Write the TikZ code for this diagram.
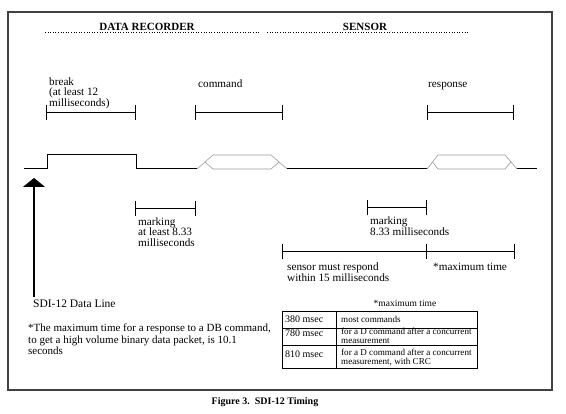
\documentclass[tikz,border=0pt]{standalone}
\usepackage{fontspec}
\setmainfont{Liberation Serif}
\usetikzlibrary{positioning,calc,arrows.meta}

\begin{document}
\begin{tikzpicture}[x=1pt,y=-1pt,inner sep=0pt,
  lbl/.style={anchor=base west,align=left,font=\fontsize{11.2}{10}\selectfont},
  head/.style={anchor=base,font=\fontsize{11}{12}\bfseries},
  cell/.style={anchor=base west,align=left,font=\fontsize{9.1}{8.5}\selectfont},
  span/.style={line width=1pt,{Bar[width=15pt]}-{Bar[width=15pt]}},
  sig/.style={line width=1pt},
  bus/.style={black!40,line width=0.6pt}]
\useasboundingbox (0,0) rectangle (566,414);
\draw[line width=1.3pt,black!75] (8,12) rectangle (552,390);
% headings
\node[coordinate](drA) at (45,32){};
\node[coordinate](drB) at (260,32){};
\node[coordinate](snA) at (267,32){};
\node[coordinate](snB) at (468,32){};
\draw[dotted,line width=0.6pt] (drA) -- (drB);
\draw[dotted,line width=0.6pt] (snA) -- (snB);
\node[head](dr) at (147,31){DATA RECORDER};
\node[head](sn) at (365,31){SENSOR};
% spans above the line
\node[coordinate](brkA) at (46,113){};
\node[coordinate](brkB) at (136,113){};
\node[coordinate](cmdA) at (195,113){};
\node[coordinate](cmdB) at (283,113){};
\node[coordinate](rspA) at (427,113){};
\node[coordinate](rspB) at (514,113){};
\draw[span] (brkA) -- (brkB);
\draw[span] (cmdA) -- (cmdB);
\draw[span] (rspA) -- (rspB);
\node[lbl](brk) at (49,106.5){break\\(at least 12\\milliseconds)};
\node[lbl](cmd) at (198,87.5){command};
\node[lbl](rsp) at (428,87.5){response};
% data line
\node[coordinate](s0) at (24,169){};
\node[coordinate](s1) at (47,155){};
\node[coordinate](s2) at (136,169){};
\node[coordinate](c0) at (197,169){};
\node[coordinate](c1) at (287,169){};
\node[coordinate](r0) at (427,169){};
\node[coordinate](r1) at (517,169){};
\node[coordinate](s3) at (537,169){};
\draw[sig] (s0) -| (s1) -| (s2) -- (c0);
\draw[sig] (c1) -- (r0);
\draw[sig] (r1) -- (s3);
\draw[bus] (c0) -- ++(16,-14) -- ++(58,0) -- (c1);
\draw[bus] ($(c0)+(8,-7)$) -- ++(8,7) -- ++(58,0) -- ++(8,-7);
\draw[bus] (r0) -- ++(11,-14) -- ++(67,0) -- (r1);
\draw[bus] ($(r0)+(5.5,-7)$) -- ++(5.5,7) -- ++(67,0) -- ++(6,-7);
% spans below the line
\node[coordinate](mk1A) at (135,209){};
\node[coordinate](mk1B) at (196,209){};
\node[coordinate](mk2A) at (367,208){};
\node[coordinate](mk2B) at (427,208){};
\node[coordinate](wtA) at (282,252){};
\node[coordinate](wtB) at (427,252){};
\node[coordinate](mxB) at (515,252){};
\draw[span] (mk1A) -- (mk1B);
\draw[span] (mk2A) -- (mk2B);
\draw[span] (wtA) -- (wtB);
\draw[line width=1pt,-{Bar[width=15pt]}] (wtB) -- (mxB);
\node[lbl,font=\fontsize{11.2}{10.5}\selectfont](mk1) at (138,246.5){marking\\at least 8.33\\milliseconds};
\node[lbl](mk2) at (370,235.5){marking\\8.33 milliseconds};
\node[lbl](wt) at (287,281.5){sensor must respond\\within 15 milliseconds};
\node[lbl](mx) at (433,271){*maximum time};
% arrow to the data line
\node[coordinate](dl) at (34,297){};
\node[coordinate](tip) at (34,178){};
\draw[line width=1.2pt,-{Triangle[width=22pt,length=9pt]}] (dl) -- (tip);
\node[lbl,font=\fontsize{11.5}{12}\selectfont](sdi) at (33,308){SDI-12 Data Line};
\node[lbl,font=\fontsize{11}{11.5}\selectfont](note) at (28,355){*The maximum time for a response to a DB command,\\to get a high volume binary data packet, is 10.1\\seconds};
% table of maximum times
\node[coordinate](tA) at (282,311){};
\node[coordinate](tB) at (477,368){};
\draw[line width=0.8pt] (tA) rectangle (tB);
\foreach \y in {328,345} \draw[line width=0.8pt] (282,\y) -- (477,\y);
\draw[line width=0.8pt] (336,311) -- (336,368);
\node[cell,anchor=base,font=\fontsize{9.5}{10}\selectfont](thd) at (405,307){*maximum time};
\node[cell,font=\fontsize{10}{10}\selectfont](t1a) at (285,323){380 msec};
\node[cell](t1b) at (341,322.5){most commands};
\node[cell,font=\fontsize{10}{10}\selectfont](t2a) at (285,337){780 msec};
\node[cell](t2b) at (341,343.5){for a D command after a concurrent\\measurement};
\node[cell,font=\fontsize{10}{10}\selectfont](t3a) at (285,358){810 msec};
\node[cell](t3b) at (341,364.5){for a D command after a concurrent\\measurement, with CRC};
% caption
\node[head,font=\fontsize{10}{12}\bfseries](cap) at (265,405){Figure 3.\ \ SDI-12 Timing};
\end{tikzpicture}
\end{document}
